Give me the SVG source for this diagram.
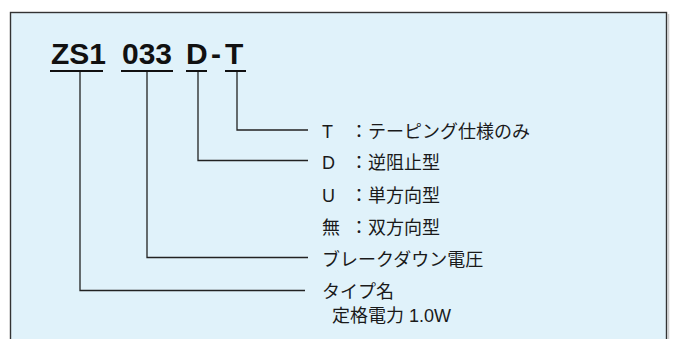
<svg xmlns="http://www.w3.org/2000/svg" width="677" height="339" viewBox="0 0 677 339">
<style>
.frame{fill:#e0f2fa;stroke:#333;stroke-width:1.4}
.title{font-family:"Liberation Sans","Noto Sans CJK JP",sans-serif;font-weight:bold;font-size:30px;fill:#111}
.ul{stroke:#111;stroke-width:2;fill:none}
.lbl{font-family:"Liberation Sans","Noto Sans CJK JP",sans-serif;font-size:18px;fill:#1a1a1a}
.conn{stroke:#222;stroke-width:1.3;fill:none}
</style>
<rect width="677" height="339" fill="#ffffff"/>
<line x1="668.5" y1="14" x2="668.5" y2="339" stroke="#cfcfcf" stroke-width="1.5"/>
<rect class="frame" x="10.5" y="12.5" width="656" height="340"/>
<g id="title">
<text class="title" x="51" y="63.5">ZS1</text>
<text class="title" x="122" y="63.5">033</text>
<text class="title" x="186" y="63.5">D</text>
<text class="title" x="211" y="63.5">-</text>
<text class="title" x="225" y="63.5">T</text>
<line class="ul" x1="50" y1="71" x2="103" y2="71"/>
<line class="ul" x1="121" y1="71" x2="173" y2="71"/>
<line class="ul" x1="186" y1="71" x2="207" y2="71"/>
<line class="ul" x1="225" y1="71" x2="246" y2="71"/>
</g>
<g id="connectors">
<polyline class="conn" points="237,72 237,130 308,130"/>
<polyline class="conn" points="198,72 198,160.5 308,160.5"/>
<polyline class="conn" points="147,72 147,257.5 308,257.5"/>
<polyline class="conn" points="80,72 80,290.5 305,290.5"/>
</g>
<g id="taping">
<text class="lbl" x="322" y="137.5">T</text>
<text class="lbl" x="350" y="137.5">：</text>
<text class="lbl" x="368" y="137.5">テーピング仕様のみ</text>
</g>
<g id="dir-d">
<text class="lbl" x="322" y="169">D</text>
<text class="lbl" x="350" y="169">：</text>
<text class="lbl" x="368" y="169">逆阻止型</text>
</g>
<g id="dir-u">
<text class="lbl" x="322" y="202">U</text>
<text class="lbl" x="350" y="202">：</text>
<text class="lbl" x="368" y="202">単方向型</text>
</g>
<g id="dir-none">
<text class="lbl" x="322" y="234">無</text>
<text class="lbl" x="350" y="234">：</text>
<text class="lbl" x="368" y="234">双方向型</text>
</g>
<g id="voltage">
<text class="lbl" x="322" y="266">ブレークダウン電圧</text>
</g>
<g id="type">
<text class="lbl" x="322" y="298">タイプ名</text>
<text class="lbl" x="332" y="322">定格電力 1.0W</text>
</g>
</svg>
